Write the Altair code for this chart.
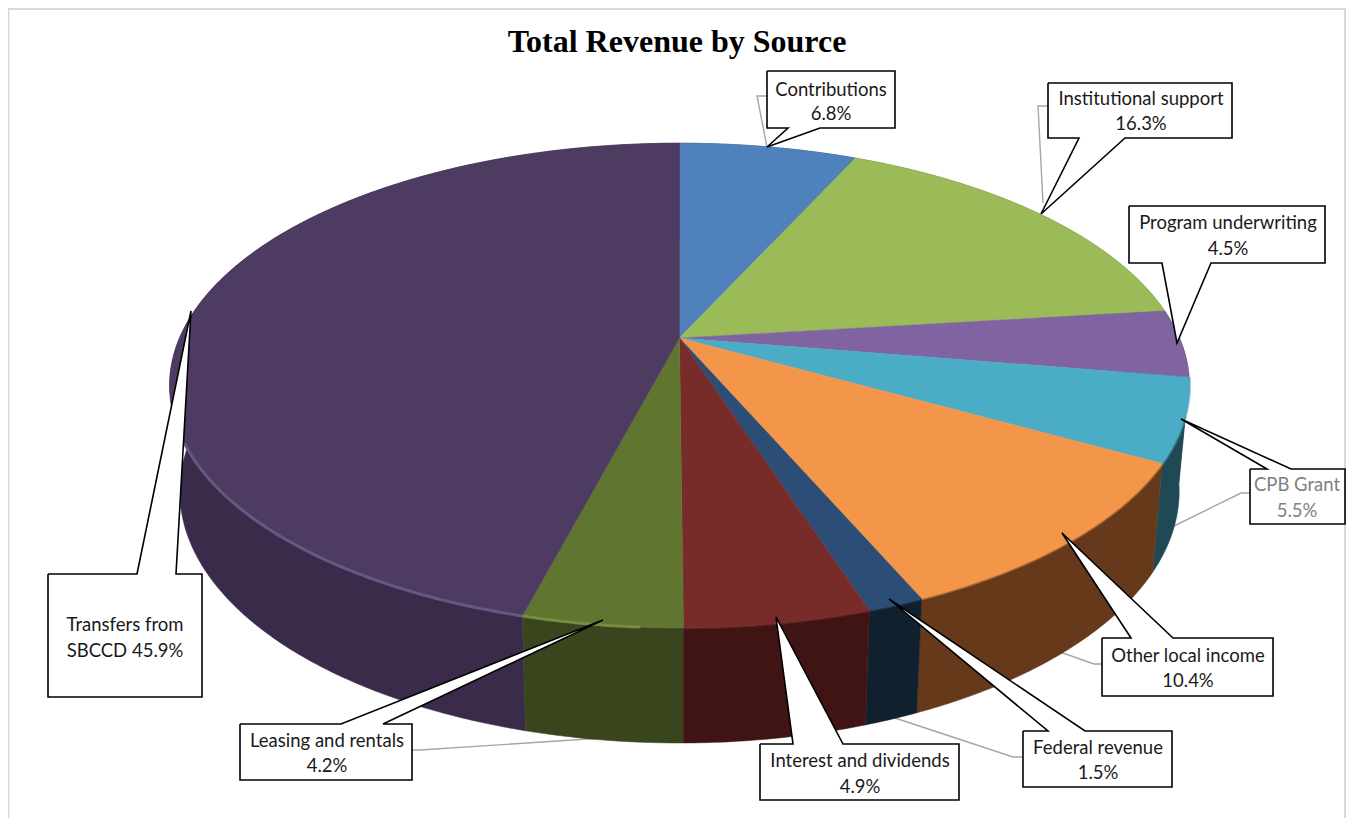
import math
import altair as alt
import pandas as pd

# ---- chart values -------------------------------------------------------
sources = ["Contributions", "Institutional support", "Program underwriting", "CPB Grant",
           "Other local income", "Federal revenue", "Interest and dividends",
           "Leasing and rentals", "Transfers from SBCCD"]
shares = [6.8, 16.3, 4.5, 5.5, 10.4, 1.5, 4.9, 4.2, 45.9]
top_colors = ["#4f81bd", "#9bbb59", "#8064a2", "#4aacc5", "#f4964a",
              "#2c4d75", "#772c2a", "#5f7530", "#4d3b62"]
wall_colors = ["#2b4766", "#55682f", "#453659", "#1f4a55", "#65391a",
               "#10202f", "#3f1412", "#39451c", "#3a2b4b"]
title_text = "Total Revenue by Source"

# ---- layout (reference pixels) -------------------------------------------
W, H = 1338, 810
PERSPECTIVE = 0.196
TOP = dict(cx=679.5, cy=338, rx=500, ry=233)
BOTTOM = dict(cx=679.5, cy=442, rx=490, ry=242)
label_font = "Lato"
label_size = 18.5

# label box: (left, right, top, bottom), pointer base (x0, x1) on edge, tip, leader path
callouts = [
    dict(box=(767, 895, 71, 128), side="bottom", base=(788, 820), tip=(767, 147),
         leader=[(767, 96), (757, 96), (767, 147)], lines=["Contributions", "6.8%"],
         cx=831, base_y=(96, 120), grey=False),
    dict(box=(1048, 1232, 83, 138), side="bottom", base=(1079, 1125), tip=(1041, 214),
         leader=[(1048, 106), (1038, 106), (1043, 203)], lines=["Institutional support", "16.3%"],
         cx=1141, base_y=(105, 130), grey=False),
    dict(box=(1129, 1325, 206, 263), side="bottom", base=(1162, 1211), tip=(1177, 343),
         leader=None, lines=["Program underwriting", "4.5%"],
         cx=1228, base_y=(229, 255), grey=False),
    dict(box=(1250, 1345, 469, 524), side="top", base=(1267, 1291), tip=(1181, 419),
         leader=[(1250, 493), (1241, 493), (1170, 528)], lines=["CPB Grant", "5.5%"],
         cx=1297, base_y=(491, 517), grey=True),
    dict(box=(1102, 1273, 638, 696), side="top", base=(1131, 1173), tip=(1062, 533),
         leader=[(1102, 664), (1094, 664), (1060, 652)], lines=["Other local income", "10.4%"],
         cx=1188, base_y=(662, 687), grey=False),
    dict(box=(1023, 1172, 731, 787), side="top", base=(1048, 1085), tip=(889, 599),
         leader=[(1023, 757), (1013, 757), (889, 716)], lines=["Federal revenue", "1.5%"],
         cx=1098, base_y=(754, 779), grey=False),
    dict(box=(760, 959, 744, 800), side="top", base=(793, 843), tip=(776, 617),
         leader=None, lines=["Interest and dividends", "4.9%"],
         cx=860, base_y=(767, 793), grey=False),
    dict(box=(240, 412, 724, 780), side="top", base=(341, 383), tip=(603, 620),
         leader=[(412, 750), (420, 750), (603, 738)], lines=["Leasing and rentals", "4.2%"],
         cx=327, base_y=(747, 772), grey=False),
    dict(box=(48, 202, 574, 697), side="top", base=(137, 176), tip=(191, 311),
         leader=None, lines=["Transfers from", "SBCCD 45.9%"],
         cx=125, base_y=(631, 657), grey=False),
]

X = alt.X("x:Q", axis=None, scale=alt.Scale(domain=[8, 8 + W], nice=False, zero=False))
Y = alt.Y("y:Q", axis=None, scale=alt.Scale(domain=[8 + H, 8], nice=False, zero=False))


def rim(frac, g):
    a = 2 * math.pi * frac
    u, v = math.sin(a), math.cos(a)
    w = 1 + PERSPECTIVE * v
    return g["cx"] + g["rx"] * u / w, g["cy"] - g["ry"] * v / w


def arc(f0, f1, g):
    n = max(2, int(abs(f1 - f0) * 720))
    return [rim(f0 + (f1 - f0) * i / n, g) for i in range(n + 1)]


def path(points, **mark):
    df = pd.DataFrame(points, columns=["x", "y"])
    df["i"] = range(len(df))
    return alt.Chart(df).mark_line(**mark).encode(x=X, y=Y, order="i:Q")


cum = [0.0]
for s in shares:
    cum.append(cum[-1] + s / 100)

layers = []

# frame
layers.append(path([(8.5, H + 10), (8.5, 9), (1345, 9), (1345, H + 10)],
                   stroke="#d9d9d9", strokeWidth=2))

# grey leader lines
for c in callouts:
    if c["leader"]:
        layers.append(path(c["leader"], stroke="#a6a6a6", strokeWidth=1.4))

# side walls, back to front
for i in [0, 1, 2, 3, 4, 5, 8, 7, 6]:
    pts = arc(cum[i], cum[i + 1], TOP) + arc(cum[i + 1], cum[i], BOTTOM)
    pts.append(pts[0])
    layers.append(path(pts, fill=wall_colors[i], stroke=wall_colors[i], strokeWidth=0.5))

# top face
for i in range(len(shares)):
    pts = [(TOP["cx"], TOP["cy"])] + arc(cum[i], cum[i + 1], TOP)
    pts.append(pts[0])
    layers.append(path(pts, fill=top_colors[i], stroke=top_colors[i], strokeWidth=0.5))

# soft edge where the coloured faces meet the dark walls
for i in [3, 4, 5, 6]:
    layers.append(path(arc(cum[i], cum[i + 1], TOP), stroke=top_colors[i], strokeWidth=3.5, opacity=0.45))

# lit bevel along the front-left rim
layers.append(path(arc(0.682, cum[8], TOP), stroke="#6a5a86", strokeWidth=3, opacity=0.9))
layers.append(path(arc(cum[8], 0.51, TOP), stroke="#7c9044", strokeWidth=3, opacity=0.9))

# callouts
for c in callouts:
    l, r, t, b = c["box"]
    b0, b1 = c["base"]
    if c["side"] == "bottom":
        pts = [(l, t), (r, t), (r, b), (b1, b), c["tip"], (b0, b), (l, b), (l, t)]
    else:
        pts = [(l, t), (b0, t), c["tip"], (b1, t), (r, t), (r, b), (l, b), (l, t)]
    layers.append(path(pts, fill="white", stroke="black", strokeWidth=1.6))

# label texts
rows = []
for c in callouts:
    for line, by in zip(c["lines"], c["base_y"]):
        rows.append(dict(x=c["cx"], y=by, label=line, grey=c["grey"]))
texts = pd.DataFrame(rows)
for flag, color in [(False, "#1a1a1a"), (True, "#7f7f7f")]:
    layers.append(
        alt.Chart(texts[texts["grey"] == flag])
        .mark_text(font=label_font, fontSize=label_size, align="center", baseline="alphabetic", color=color)
        .encode(x=X, y=Y, text="label:N")
    )

chart = (
    alt.layer(*layers)
    .properties(
        width=W,
        height=H,
        padding=0,
        autosize=alt.AutoSizeParams(type="none"),
        title=alt.TitleParams(
            title_text, font="Liberation Serif", fontSize=32, fontWeight="bold",
            color="black", anchor="middle", offset=0, dy=54,
        ),
    )
    .configure_view(stroke=None)
)
chart.save("out.html", embed_options={"renderer": "svg", "actions": False})
